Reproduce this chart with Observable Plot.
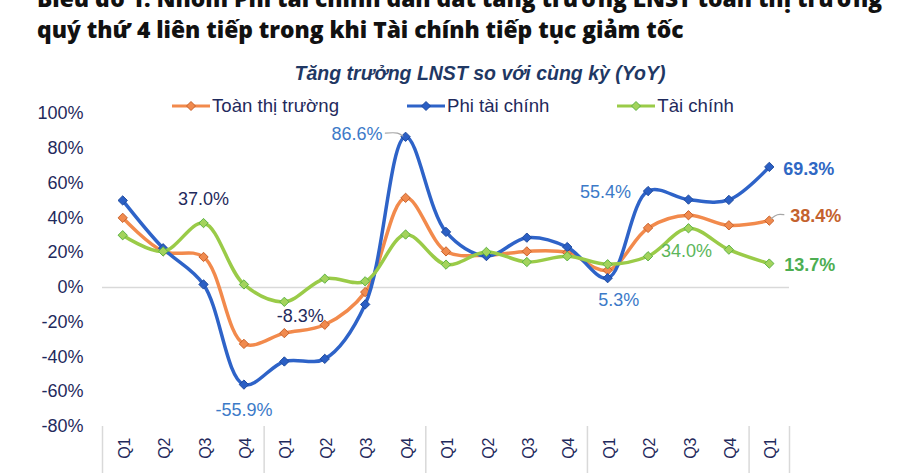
<!DOCTYPE html>
<html>
<head>
<meta charset="utf-8">
<script src="https://cdn.jsdelivr.net/npm/d3@7"></script>
<script src="https://cdn.jsdelivr.net/npm/@observablehq/plot@0.6"></script>
<style>
  body { margin: 0; background: #fff; }
  #wrap { position: relative; width: 900px; height: 473px; overflow: hidden; font-family: "Liberation Sans", Arial, sans-serif; background: #fff; }
  #title { position: absolute; left: 37px; top: -17px; font-family: "Open Sans", "DejaVu Sans", sans-serif; font-weight: 800; font-size: 22.8px; line-height: 31px; color: #111; white-space: nowrap; }
  #subtitle { position: absolute; left: 0; width: 960px; text-align: center; top: 63px; font-weight: 700; font-style: italic; font-size: 19.5px; line-height: 20px; color: #1F3864; white-space: nowrap; }
  #chart { position: absolute; left: 0; top: 90px; }
  #legend { position: absolute; left: 172px; top: 95px; display: flex; gap: 68px; font-size: 18.6px; color: #1F2A5C; z-index: 2; }
  .item { display: flex; align-items: center; gap: 2px; white-space: nowrap; }
</style>
</head>
<body>
<div id="wrap">
  <div id="title"></div>
  <div id="subtitle"></div>
  <div id="chart"></div>
  <div id="legend"></div>
</div>
<script>
const titleLines = [
  "Biểu đồ 1: Nhóm Phi tài chính dẫn dắt tăng trưởng LNST toàn thị trường",
  "quý thứ 4 liên tiếp trong khi Tài chính tiếp tục giảm tốc"
];
const subtitle = "Tăng trưởng LNST so với cùng kỳ (YoY)";

const quarters = ["Q1","Q2","Q3","Q4","Q1","Q2","Q3","Q4","Q1","Q2","Q3","Q4","Q1","Q2","Q3","Q4","Q1"];
const years    = [2021,2021,2021,2021,2022,2022,2022,2022,2023,2023,2023,2023,2024,2024,2024,2024,2025];

const seriesNames = ["Toàn thị trường", "Phi tài chính", "Tài chính"];
const toanThiTruong = [40.0, 20.7, 17.5, -32.5, -26.3, -21.5, -2.7, 51.5, 20.7, 18.5, 20.7, 20.0, 9.8, 34.2, 41.5, 35.7, 38.4];
const phiTaiChinh   = [50.0, 22.5, 1.7, -55.9, -42.6, -41.1, -9.8, 86.6, 31.9, 18.0, 28.6, 23.2, 5.3, 55.4, 50.5, 50.3, 69.3];
const taiChinh      = [30.0, 20.7, 37.0, 1.7, -8.3, 5.0, 3.5, 30.4, 13.1, 20.4, 14.6, 17.9, 13.3, 17.9, 34.0, 21.7, 13.7];

const yTicks = [-80, -60, -40, -20, 0, 20, 40, 60, 80, 100];

const styles = [
  { line: "#F28A4C", fill: "#F08A4E", stroke: "#C8622C" },
  { line: "#2E63C8", fill: "#2B5FC4", stroke: "#1E4A9E" },
  { line: "#9ACB48", fill: "#A3D35C", stroke: "#5DB346" }
];
const seriesValues = [toanThiTruong, phiTaiChinh, taiChinh];

document.getElementById("title").innerHTML = titleLines.map(t => `<div>${t}</div>`).join("");
document.getElementById("subtitle").textContent = subtitle;

// legend
const legend = document.getElementById("legend");
seriesNames.forEach((name, k) => {
  const s = styles[k];
  const item = document.createElement("div");
  item.className = "item";
  item.innerHTML = `<svg width="38" height="14" viewBox="0 0 38 14"><line x1="0" y1="7" x2="38" y2="7" stroke="${s.line}" stroke-width="3"/><path d="M19 2.5 L23.5 7 L19 11.5 L14.5 7 Z" fill="${s.fill}" stroke="${s.stroke}" stroke-width="1"/></svg><span>${name}</span>`;
  legend.appendChild(item);
});

const n = quarters.length;
const idx = d3.range(n);
const rowsOf = arr => arr.map((v, i) => ({ i, v }));
// group boundaries (start of each year and end of last)
const bounds = idx.filter(i => i === 0 || years[i] !== years[i - 1]).map(i => i - 0.5).concat([n - 0.5]);

const seriesMarks = seriesValues.flatMap((arr, k) => [
  Plot.line(rowsOf(arr), { x: "i", y: "v", stroke: styles[k].line, strokeWidth: 3.5, curve: "catmull-rom" }),
  Plot.dot(rowsOf(arr), { x: "i", y: "v", symbol: "diamond2", r: 4.2, fill: styles[k].fill, stroke: styles[k].stroke, strokeWidth: 1 })
]);

const fmt = v => v.toFixed(1) + "%";
function label(arr, i, opts) {
  return Plot.text([{ i, v: arr[i] }], { x: "i", y: "v", text: d => fmt(d.v), fontSize: 18, ...opts });
}
function leader(arr, i, pts) {
  return Plot.line(pts.map(([dx, dy]) => ({ x: i + dx, y: arr[i] + dy })), { x: "x", y: "y", stroke: "#A6A6A6", strokeWidth: 1.2, curve: "catmull-rom" });
}

const navy = "#1F2A5C";
const chart = Plot.plot({
  width: 900,
  height: 383,
  marginTop: 23,
  marginBottom: 47,
  marginLeft: 102,
  marginRight: 111,
  x: { type: "linear", domain: [-0.5, n - 0.5], label: null },
  y: { domain: [-80, 100], label: null },
  style: { fontFamily: "Liberation Sans, Arial, sans-serif", color: navy, background: "transparent", overflow: "visible" },
  marks: [
    Plot.ruleY([0], { stroke: "#D9D9D9", strokeWidth: 1.5 }),
    Plot.axisY({ ticks: yTicks, tickFormat: d => d + "%", tickSize: 0, tickPadding: 19, fontSize: 18, label: null }),
    Plot.axisX({ ticks: idx, tickFormat: i => quarters[i], tickRotate: -90, tickSize: 0, tickPadding: 11, fontSize: 16, dx: 2, label: null }),
    Plot.axisX({ ticks: bounds, tickFormat: () => "", tickSize: 47, stroke: "#D9D9D9", strokeWidth: 1.5, label: null }),
    ...seriesMarks,
    leader(phiTaiChinh, 7, [[-0.5, 2.1], [-0.2, 2.1], [-0.07, 0.5]]),
    leader(toanThiTruong, 16, [[0.05, 1.2], [0.2, 3.4], [0.36, 3.4]]),
    label(taiChinh, 2, { dy: -24, fill: navy }),
    label(taiChinh, 4, { dx: 16, dy: 14, fill: navy }),
    label(phiTaiChinh, 7, { dx: -23, dy: -3, textAnchor: "end", fill: "#3C7AC8" }),
    label(phiTaiChinh, 3, { dy: 26, fill: "#3C7AC8" }),
    label(phiTaiChinh, 13, { dx: -17, dy: 1, textAnchor: "end", fill: "#3C7AC8" }),
    label(phiTaiChinh, 12, { dx: 11, dy: 22, fill: "#3C7AC8" }),
    label(taiChinh, 14, { dx: -2, dy: 23, fill: "#5CB65A" }),
    label(phiTaiChinh, 16, { dx: 14, dy: 2, textAnchor: "start", fill: "#2F68C4", fontWeight: "bold" }),
    label(toanThiTruong, 16, { dx: 21, dy: -4, textAnchor: "start", fill: "#C4622D", fontWeight: "bold" }),
    label(taiChinh, 16, { dx: 15, dy: 2, textAnchor: "start", fill: "#4DAE52", fontWeight: "bold" })
  ]
});
document.getElementById("chart").appendChild(chart);
</script>
</body>
</html>
